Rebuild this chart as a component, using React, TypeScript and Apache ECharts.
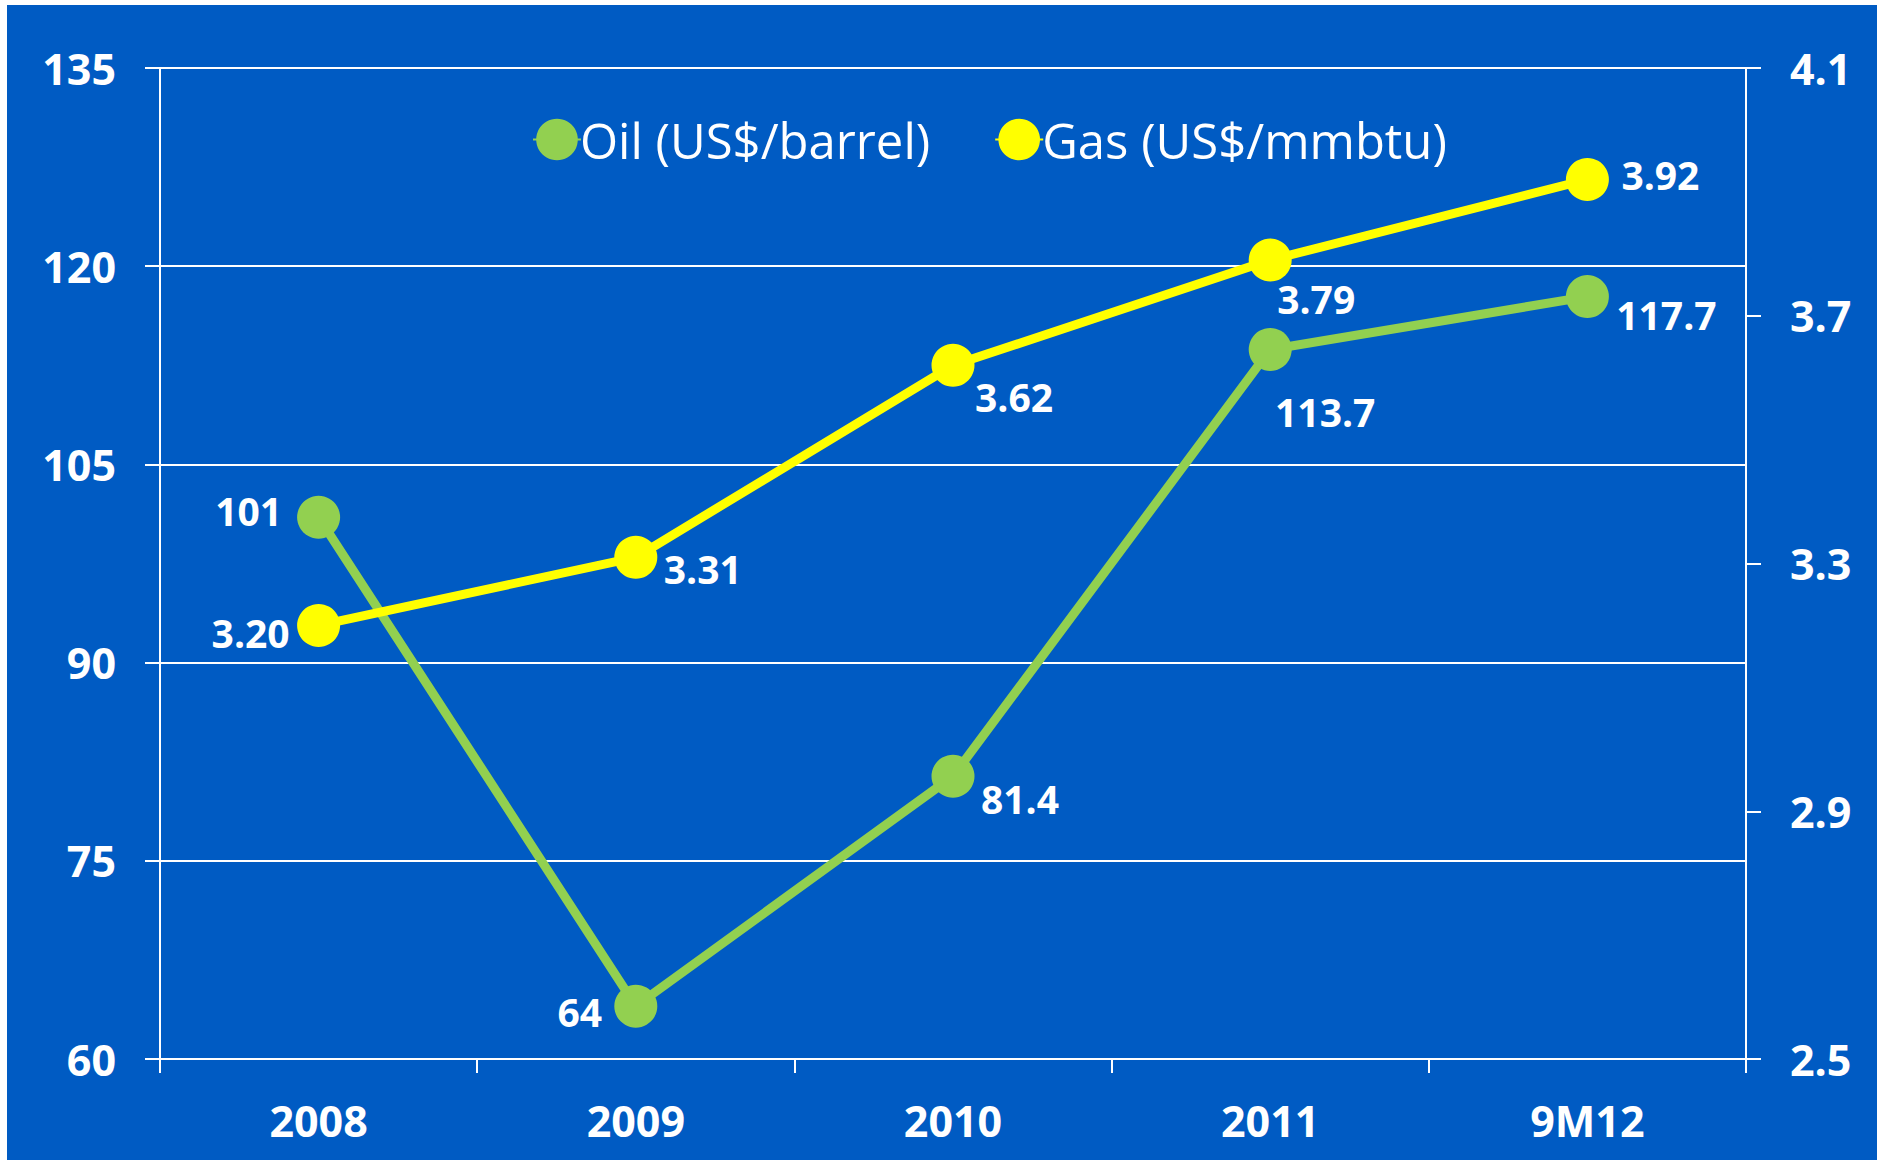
import React, { useEffect, useRef } from "react";
import * as echarts from "echarts";

const categories = ["2008", "2009", "2010", "2011", "9M12"];
const oilValues = [101, 64, 81.4, 113.7, 117.7];
const gasValues = [3.2, 3.31, 3.62, 3.79, 3.92];
const oilLabels = ["101", "64", "81.4", "113.7", "117.7"];
const gasLabels = ["3.20", "3.31", "3.62", "3.79", "3.92"];
const oilLabelOffsets = [[-70, -7], [-56, 5], [67, 22], [55, 62], [79, 18]];
const gasLabelOffsets = [[-68, 7], [67, 11], [61, 31], [46, 38], [73, -5]];

const FONT = "'Open Sans', 'DejaVu Sans', sans-serif";
const BG = "#005BC3";
const GREEN = "#92D050";
const YELLOW = "#FFFF00";

export default function App() {
  const ref = useRef<HTMLDivElement>(null);
  useEffect(() => {
    if (!ref.current) return;
    const chart = echarts.init(ref.current, null, { renderer: "svg" });
    const labelStyle = {
      show: true,
      position: "inside",
      color: "#ffffff",
      fontFamily: FONT,
      fontWeight: "bold",
      fontSize: 39,
      align: "center",
      verticalAlign: "middle",
    };
    chart.setOption({
      animation: false,
      backgroundColor: BG,
      textStyle: { fontFamily: FONT },
      grid: { left: 153, right: 131, top: 63, bottom: 101, containLabel: false },
      legend: {
        left: 520,
        top: 105,
        itemWidth: 48,
        itemHeight: 52,
        itemGap: 64,
        textStyle: { color: "#ffffff", fontSize: 49, fontFamily: FONT, padding: [0, 0, 0, -6] },
        data: ["Oil (US$/barrel)", "Gas (US$/mmbtu)"],
      },
      xAxis: {
        type: "category",
        data: categories,
        boundaryGap: true,
        axisLine: { show: true, lineStyle: { color: "#ffffff", width: 2 } },
        axisTick: { show: true, length: 14, lineStyle: { color: "#ffffff", width: 2 } },
        axisLabel: { color: "#ffffff", fontSize: 43, fontWeight: "bold", fontFamily: FONT, margin: 40 },
        splitLine: { show: false },
      },
      yAxis: [
        {
          type: "value",
          min: 60,
          max: 135,
          interval: 15,
          position: "left",
          axisLine: { show: true, lineStyle: { color: "#ffffff", width: 2 } },
          axisTick: { show: true, length: 15, lineStyle: { color: "#ffffff", width: 2 } },
          axisLabel: { color: "#ffffff", fontSize: 43, fontWeight: "bold", fontFamily: FONT, margin: 44 },
          splitLine: { show: true, lineStyle: { color: "#ffffff", width: 2 } },
        },
        {
          type: "value",
          min: 2.5,
          max: 4.1,
          interval: 0.4,
          position: "right",
          axisLine: { show: true, lineStyle: { color: "#ffffff", width: 2 } },
          axisTick: { show: true, length: 15, lineStyle: { color: "#ffffff", width: 2 } },
          axisLabel: {
            color: "#ffffff",
            fontSize: 43,
            fontWeight: "bold",
            fontFamily: FONT,
            margin: 44,
            formatter: (v: number) => v.toFixed(1),
          },
          splitLine: { show: false },
        },
      ],
      series: [
        {
          name: "Oil (US$/barrel)",
          type: "line",
          yAxisIndex: 0,
          symbol: "circle",
          symbolSize: 43,
          lineStyle: { color: GREEN, width: 9 },
          itemStyle: { color: GREEN },
          z: 2,
          data: oilValues.map((v, i) => ({
            value: v,
            label: { ...labelStyle, offset: oilLabelOffsets[i], formatter: oilLabels[i] },
          })),
        },
        {
          name: "Gas (US$/mmbtu)",
          type: "line",
          yAxisIndex: 1,
          symbol: "circle",
          symbolSize: 43,
          lineStyle: { color: YELLOW, width: 9 },
          itemStyle: { color: YELLOW },
          z: 3,
          data: gasValues.map((v, i) => ({
            value: v,
            label: { ...labelStyle, offset: gasLabelOffsets[i], formatter: gasLabels[i] },
          })),
        },
      ],
    });
    return () => chart.dispose();
  }, []);
  return (
    <div
      ref={ref}
      style={{ position: "absolute", left: 7, top: 5, width: 1870, height: 1155 }}
    />
  );
}
